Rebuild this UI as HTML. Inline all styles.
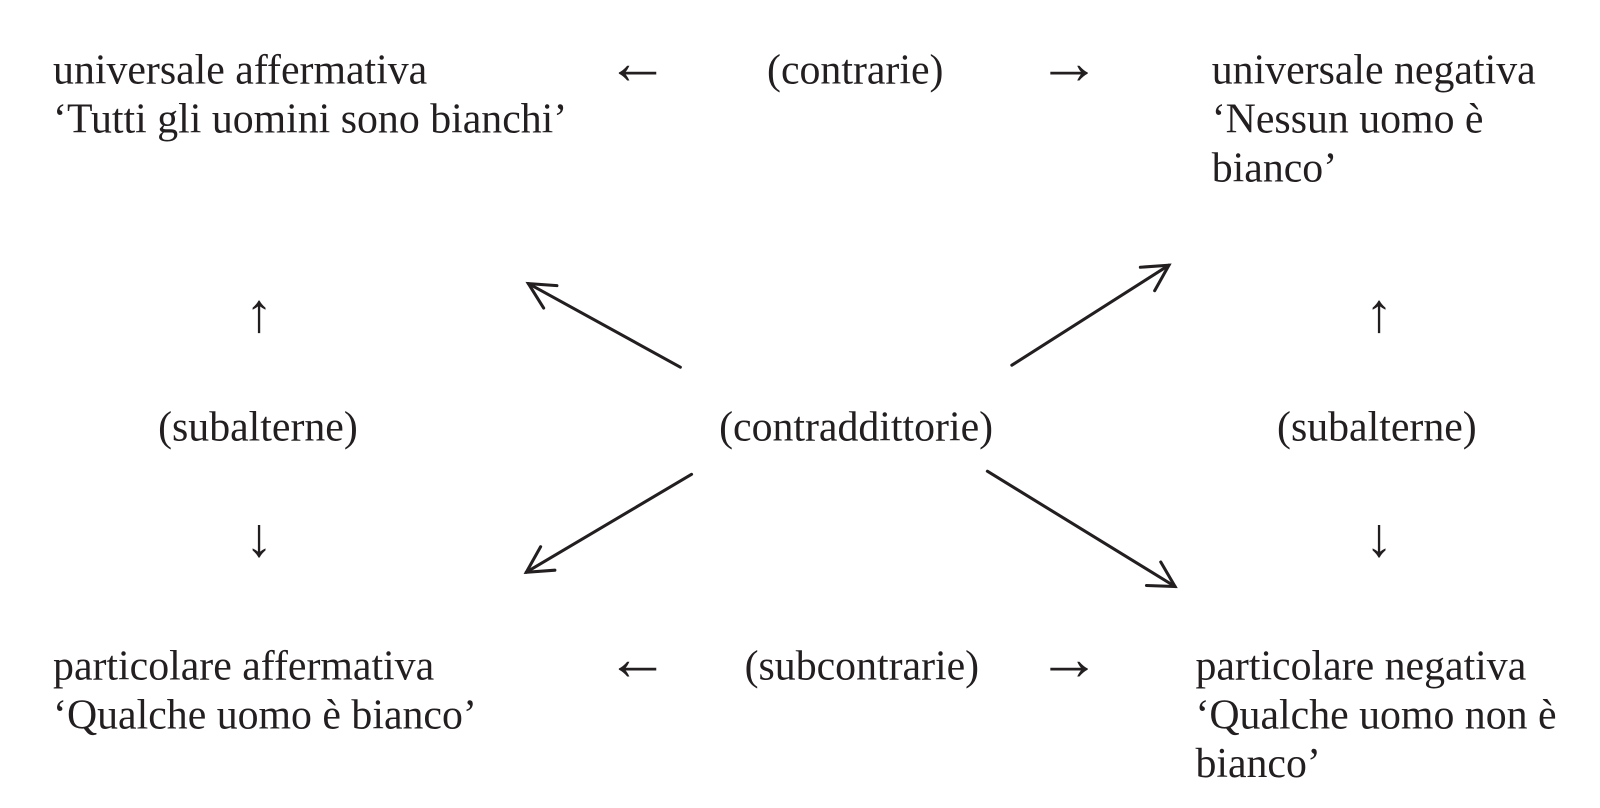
<!DOCTYPE html>
<html><head><meta charset="utf-8"><style>
html,body{margin:0;padding:0;background:#fff;width:1600px;height:808px;overflow:hidden}
svg text{font-family:"Liberation Serif","DejaVu Serif",serif;font-size:41px;fill:#231f20}
svg text.a{font-size:62px}
svg text.v{font-size:54px}
</style></head><body>
<svg width="1600" height="808" viewBox="0 0 1600 808" xmlns="http://www.w3.org/2000/svg">
<g transform="scale(1.02)">
<g>
<text x="52" y="82">universale affermativa</text>
<text x="52" y="130">‘Tutti gli uomini sono bianchi’</text>
<text class="a" x="594" y="82">←</text>
<text x="752" y="82">(contrarie)</text>
<text class="a" x="1017" y="82">→</text>
<text x="1188" y="82">universale negativa</text>
<text x="1188" y="130">‘Nessun uomo è</text>
<text x="1188" y="178">bianco’</text>

<text class="v" x="254" y="325" text-anchor="middle">↑</text>
<text class="v" x="1352" y="325" text-anchor="middle">↑</text>
<text x="155" y="432">(subalterne)</text>
<text x="705" y="432">(contraddittorie)</text>
<text x="1252" y="432">(subalterne)</text>
<text class="v" x="254" y="545" text-anchor="middle">↓</text>
<text class="v" x="1352" y="545" text-anchor="middle">↓</text>

<text x="52" y="666">particolare affermativa</text>
<text x="52" y="714">‘Qualche uomo è bianco’</text>
<text class="a" x="594" y="666">←</text>
<text x="730" y="666">(subcontrarie)</text>
<text class="a" x="1017" y="666">→</text>
<text x="1172" y="666">particolare negativa</text>
<text x="1172" y="714">‘Qualche uomo non è</text>
<text x="1172" y="762">bianco’</text>
</g>
<g stroke="#231f20" stroke-width="3" fill="none" stroke-linecap="round" stroke-linejoin="miter">
<line x1="667" y1="360" x2="518" y2="278"/>
<polyline points="546,280 518,278 533,302"/>
<line x1="992" y1="358" x2="1146" y2="260"/>
<polyline points="1118,262 1146,260 1132,285"/>
<line x1="678" y1="465" x2="516" y2="561"/>
<polyline points="530,536 516,561 544,559"/>
<line x1="968" y1="462" x2="1152" y2="575"/>
<polyline points="1124,574 1152,575 1138,551"/>
</g>
</g>
</svg>
</body></html>
